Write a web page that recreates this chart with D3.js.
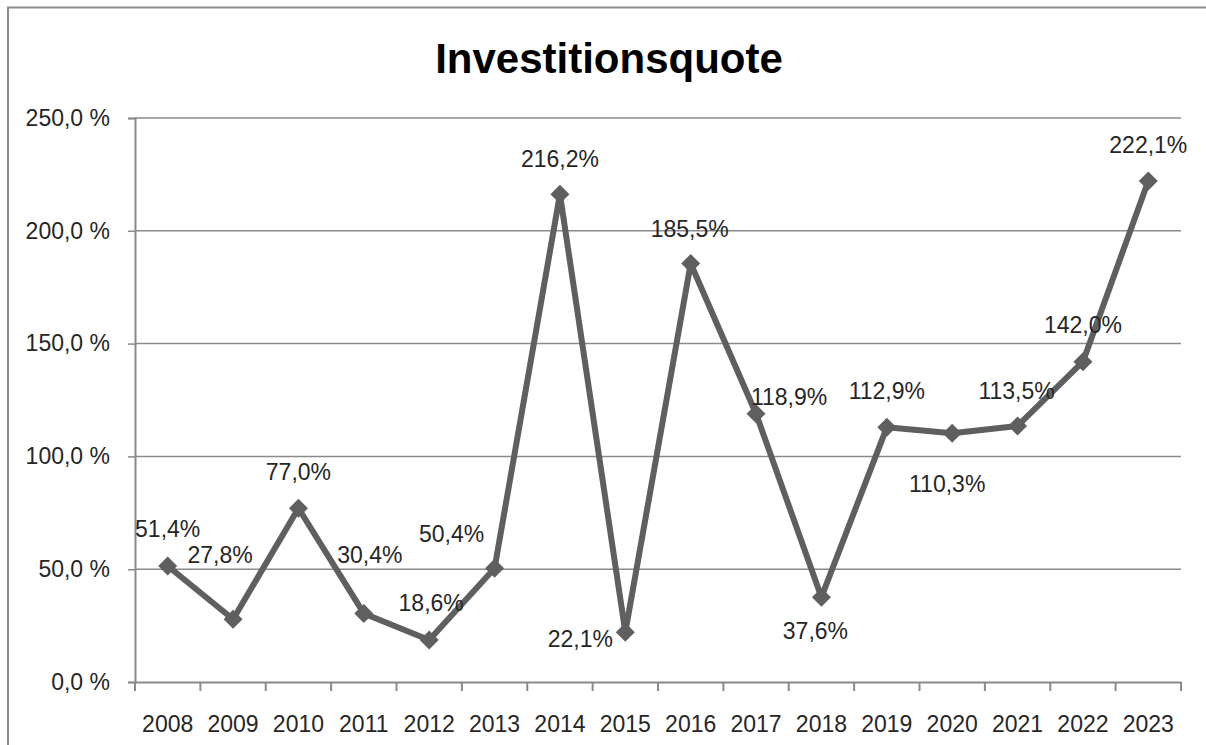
<!DOCTYPE html>
<html>
<head>
<meta charset="utf-8">
<script src="https://cdn.jsdelivr.net/npm/d3@7"></script>
<style>
  html, body { margin: 0; padding: 0; background: #fff; }
  svg { display: block; font-family: "Liberation Sans", Arial, sans-serif; }
</style>
</head>
<body>
<svg id="chart" width="1206" height="745"></svg>
<script>
const title = "Investitionsquote";
const years = ["2008","2009","2010","2011","2012","2013","2014","2015","2016","2017","2018","2019","2020","2021","2022","2023"];
const values = [51.4, 27.8, 77.0, 30.4, 18.6, 50.4, 216.2, 22.1, 185.5, 118.9, 37.6, 112.9, 110.3, 113.5, 142.0, 222.1];
const yTicks = [0, 50, 100, 150, 200, 250];
// label offsets relative to the point (dx, dy to baseline)
const labelOffsets = [
  [0, -29], [-13, -56], [0, -28], [6, -50], [2, -29], [-43, -26],
  [0, -27], [-45, 15], [-1, -27], [33, -9], [-6, 42], [0, -28],
  [-5, 59], [-1, -27], [0, -29], [0, -28]
];

const fmtTick = v => d3.format(".1f")(v).replace(".", ",") + " %";
const fmtLabel = v => d3.format(".1f")(v).replace(".", ",") + "%";

const svg = d3.select("#chart");
const mLeft = 135, mRight = 1181, mTop = 118, mBottom = 682;

const x = d3.scaleBand().domain(years).range([mLeft, mRight]).padding(0);
const y = d3.scaleLinear().domain([0, 250]).range([mBottom, mTop]);

// outer border (top and left)
svg.append("path")
  .attr("d", `M8,746 L8,7.5 L1207,7.5`)
  .attr("fill", "none").attr("stroke", "#8c8c8c").attr("stroke-width", 2);

// title
svg.append("text")
  .attr("x", 609).attr("y", 73)
  .attr("text-anchor", "middle")
  .attr("font-size", 42).attr("font-weight", "bold")
  .attr("fill", "#000")
  .text(title);

// gridlines
svg.append("g")
  .selectAll("line").data(yTicks.filter(d => d > 0)).join("line")
  .attr("x1", mLeft).attr("x2", mRight)
  .attr("y1", d => y(d)).attr("y2", d => y(d))
  .attr("stroke", "#8a8a8a").attr("stroke-width", 1.5);

// y axis
const yAxis = svg.append("g")
  .attr("transform", `translate(${mLeft},0)`)
  .call(d3.axisLeft(y).tickValues(yTicks).tickFormat(fmtTick).tickSize(7).tickPadding(18));
yAxis.select(".domain").attr("stroke", "#8a8a8a").attr("stroke-width", 2);
yAxis.selectAll(".tick line").attr("stroke", "#8a8a8a").attr("stroke-width", 1.5);
yAxis.selectAll(".tick text").attr("font-size", 23).attr("fill", "#262626")
  .attr("font-family", "Liberation Sans, Arial, sans-serif");

// x axis (ticks between categories)
const xAxis = svg.append("g")
  .attr("transform", `translate(0,${mBottom})`)
  .call(d3.axisBottom(x).tickSize(0).tickPadding(34));
xAxis.select(".domain").attr("stroke", "#8a8a8a").attr("stroke-width", 2);
xAxis.selectAll(".tick text").attr("font-size", 23).attr("fill", "#262626")
  .attr("font-family", "Liberation Sans, Arial, sans-serif");
const bounds = years.map(d => x(d)).concat([x(years[years.length - 1]) + x.bandwidth()]);
xAxis.selectAll("line.bt").data(bounds).join("line").attr("class", "bt")
  .attr("x1", d => d).attr("x2", d => d).attr("y1", 0).attr("y2", 9)
  .attr("stroke", "#8a8a8a").attr("stroke-width", 2);

const cx = d => x(d) + x.bandwidth() / 2;

// line
const line = d3.line().x((d, i) => cx(years[i])).y(d => y(d));
svg.append("path").datum(values)
  .attr("d", line)
  .attr("fill", "none").attr("stroke", "#5f5f5f").attr("stroke-width", 6)
  .attr("stroke-linejoin", "round");

// markers (diamonds)
svg.append("g").selectAll("path").data(values).join("path")
  .attr("d", d3.symbol().type(d3.symbolSquare).size(180))
  .attr("transform", (d, i) => `translate(${cx(years[i])},${y(d)}) rotate(45)`)
  .attr("fill", "#5f5f5f");

// data labels
svg.append("g").selectAll("text").data(values).join("text")
  .attr("x", (d, i) => cx(years[i]) + labelOffsets[i][0])
  .attr("y", (d, i) => y(d) + labelOffsets[i][1])
  .attr("text-anchor", "middle")
  .attr("font-size", 23).attr("fill", "#262626")
  .text(fmtLabel);
</script>
</body>
</html>
